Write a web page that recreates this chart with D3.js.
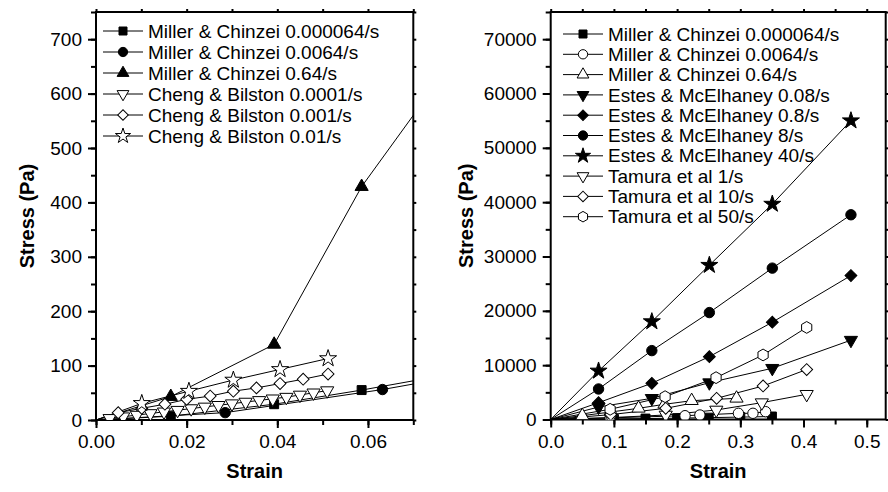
<!DOCTYPE html>
<html><head><meta charset="utf-8">
<script src="https://cdn.jsdelivr.net/npm/d3@7"></script>
<style>
body{margin:0;background:#fff;}
svg{display:block;font-family:"Liberation Sans",Arial,Helvetica,sans-serif;}
</style></head>
<body>
<svg id="c" width="888" height="492"></svg>
<script>
// ---------------- DATA : left panel ----------------
const leftXTicks = [0, 0.02, 0.04, 0.06];
const leftXTickLabels = ["0.00", "0.02", "0.04", "0.06"];
const leftYTicks = [0, 100, 200, 300, 400, 500, 600, 700];

const mc1Strain = [0, 0.0165, 0.0393, 0.0586, 0.078];
const mc1Stress = [0, 7, 29, 55, 84];
const mc2Strain = [0, 0.0285, 0.0632, 0.078];
const mc2Stress = [0, 13.5, 56, 78];
const mc3Strain = [0, 0.0165, 0.0393, 0.0586, 0.078];
const mc3Stress = [0, 43, 139, 429, 652];
const cb1Strain = [0, 0.003, 0.006, 0.009, 0.012, 0.015, 0.018, 0.021, 0.024, 0.027, 0.030, 0.033, 0.036, 0.039, 0.042, 0.045, 0.048, 0.051];
const cb1Stress = [0, 3, 6, 9, 12, 15, 18, 21, 24, 27, 30, 33, 36, 39, 42, 46, 50, 54];
const cb2Strain = [0, 0.0049, 0.0101, 0.0152, 0.0200, 0.0252, 0.0303, 0.0354, 0.0406, 0.0457, 0.0512];
const cb2Stress = [0, 13.4, 21.5, 29, 38, 44, 53, 59, 67, 75, 84.5];
const cb3Strain = [0, 0.0101, 0.0205, 0.0303, 0.0406, 0.0512];
const cb3Stress = [0, 30.6, 53, 73.5, 93, 113];

const leftNames = ["Miller & Chinzei 0.000064/s", "Miller & Chinzei 0.0064/s", "Miller & Chinzei 0.64/s",
  "Cheng & Bilston 0.0001/s", "Cheng & Bilston 0.001/s", "Cheng & Bilston 0.01/s"];

// ---------------- DATA : right panel ----------------
const rightXTicks = [0, 0.1, 0.2, 0.3, 0.4, 0.5];
const rightXTickLabels = ["0.0", "0.1", "0.2", "0.3", "0.4", "0.5"];
const rightYTicks = [0, 10000, 20000, 30000, 40000, 50000, 60000, 70000];

const rmc1Strain = [0, 0.05, 0.10, 0.15, 0.20, 0.25, 0.30, 0.35];
const rmc1Stress = [0, 40, 100, 170, 250, 340, 440, 550];
const rmc2Strain = [0, 0.094, 0.2125, 0.236, 0.297, 0.32, 0.34];
const rmc2Stress = [0, 300, 700, 830, 1140, 1140, 1440];
const rmc3Strain = [0, 0.05, 0.096, 0.139, 0.18, 0.223, 0.294];
const rmc3Stress = [0, 700, 1400, 2060, 2800, 3460, 3900];
const es1Strain = [0, 0.0757, 0.16, 0.251, 0.3506, 0.475];
const es1Stress = [0, 2300, 3900, 6780, 9430, 14600];
const es2Strain = [0, 0.0757, 0.16, 0.251, 0.3506, 0.475];
const es2Stress = [0, 3100, 6670, 11570, 17900, 26500];
const es3Strain = [0, 0.0757, 0.16, 0.251, 0.3506, 0.475];
const es3Stress = [0, 5620, 12680, 19680, 27860, 37680];
const es4Strain = [0, 0.0757, 0.16, 0.251, 0.3506, 0.475];
const es4Stress = [0, 8940, 18020, 28400, 39650, 55000];
const ta1Strain = [0, 0.095, 0.182, 0.262, 0.334, 0.405];
const ta1Stress = [0, 350, 830, 1750, 3100, 4640];
const ta2Strain = [0, 0.095, 0.182, 0.2625, 0.336, 0.405];
const ta2Stress = [0, 900, 2060, 3900, 6170, 9200];
const ta3Strain = [0, 0.094, 0.181, 0.2616, 0.336, 0.405];
const ta3Stress = [0, 1880, 4200, 7700, 11880, 16950];

const rightNames = ["Miller & Chinzei 0.000064/s", "Miller & Chinzei 0.0064/s", "Miller & Chinzei 0.64/s",
  "Estes & McElhaney 0.08/s", "Estes & McElhaney 0.8/s", "Estes & McElhaney 8/s", "Estes & McElhaney 40/s",
  "Tamura et al 1/s", "Tamura et al 10/s", "Tamura et al 50/s"];

// ---------------- symbols ----------------
const hexagon = {draw(ctx, size){ const r = Math.sqrt(size/2.598);
  for(let i=0;i<6;i++){const a=Math.PI/6+i*Math.PI/3; const x=r*Math.cos(a), y=r*Math.sin(a); i?ctx.lineTo(x,y):ctx.moveTo(x,y);} ctx.closePath(); }};
const M = {
  square:{type:d3.symbolSquare,size:80,rot:0},
  circle:{type:d3.symbolCircle,size:85,rot:0},
  tri:{type:d3.symbolTriangle,size:75,rot:0},
  dtri:{type:d3.symbolTriangle,size:75,rot:180},
  diamond:{type:d3.symbolSquare,size:70,rot:45},
  star:{type:d3.symbolStar,size:90,rot:0},
  hex:{type:hexagon,size:90,rot:0}
};

const svg = d3.select("#c");
svg.append("rect").attr("width",888).attr("height",492).attr("fill","#fff");

function zip(xs, ys){ return xs.map((x,i)=>({x, y: ys[i]})); }

function panel(opt){
  const x = d3.scaleLinear().domain(opt.xDomain).range(opt.xRange);
  const y = d3.scaleLinear().domain(opt.yDomain).range(opt.yRange);
  const g = svg.append("g");
  const cid = "clip"+opt.id;
  svg.append("clipPath").attr("id",cid).append("rect")
    .attr("x",opt.xRange[0]).attr("y",opt.yRange[1])
    .attr("width",opt.xRange[1]-opt.xRange[0]).attr("height",opt.yRange[0]-opt.yRange[1]);

  const fs = "19px";
  const bottom = g.append("g").attr("transform",`translate(0,${opt.yRange[0]})`)
    .call(d3.axisBottom(x).tickValues(opt.xMinor).tickSize(5).tickFormat(""));
  const bottomMaj = g.append("g").attr("transform",`translate(0,${opt.yRange[0]})`)
    .call(d3.axisBottom(x).tickValues(opt.xTicks).tickSize(8).tickPadding(7).tickFormat((d,i)=>opt.xLabels[i]));
  const leftMin = g.append("g").attr("transform",`translate(${opt.xRange[0]},0)`)
    .call(d3.axisLeft(y).tickValues(opt.yMinor).tickSize(5).tickFormat(""));
  const leftMaj = g.append("g").attr("transform",`translate(${opt.xRange[0]},0)`)
    .call(d3.axisLeft(y).tickValues(opt.yTicks).tickSize(8).tickPadding(6).tickFormat(d3.format("d")));
  const top = g.append("g").attr("transform",`translate(0,${opt.yRange[1]})`)
    .call(d3.axisTop(x).tickValues(opt.xMinor).tickSize(3).tickFormat(""));
  const right = g.append("g").attr("transform",`translate(${opt.xRange[1]},0)`)
    .call(d3.axisRight(y).tickValues(opt.yMinor).tickSize(3).tickFormat(""));
  [bottom,bottomMaj,leftMin,leftMaj,top,right].forEach(a=>{
    a.select(".domain").remove();
    a.selectAll("line").attr("stroke","#000").attr("stroke-width",2);
    a.selectAll("text").attr("fill","#000").style("font-size",fs).style("font-family","Liberation Sans, Arial, sans-serif");
  });
  g.append("rect").attr("x",opt.xRange[0]).attr("y",opt.yRange[1])
    .attr("width",opt.xRange[1]-opt.xRange[0]).attr("height",opt.yRange[0]-opt.yRange[1])
    .attr("fill","none").attr("stroke","#000").attr("stroke-width",2);

  g.append("text").attr("x",(opt.xRange[0]+opt.xRange[1])/2).attr("y",478)
    .attr("text-anchor","middle").style("font-weight","bold").style("font-size","20px").text("Strain");
  g.append("text").attr("transform",`translate(${opt.yTitleX},${(opt.yRange[0]+opt.yRange[1])/2}) rotate(-90)`)
    .attr("text-anchor","middle").style("font-weight","bold").style("font-size","20px").text("Stress (Pa)");

  const line = d3.line().x(d=>x(d.x)).y(d=>y(d.y));
  const plot = g.append("g").attr("clip-path",`url(#${cid})`);
  opt.series.forEach(s=>{
    const pts = zip(s.xs, s.ys);
    plot.append("path").attr("d",line(pts)).attr("fill","none").attr("stroke","#000").attr("stroke-width",1);
  });
  opt.series.forEach(s=>{
    const pts = zip(s.xs, s.ys).filter(d=>d.x>0);
    const m = M[s.m];
    plot.selectAll(null).data(pts).enter().append("path")
      .attr("d", d3.symbol().type(m.type).size(m.size))
      .attr("transform", d=>`translate(${x(d.x)},${y(d.y)}) rotate(${m.rot})`)
      .attr("fill", s.open ? "#fff" : "#000").attr("stroke","#000").attr("stroke-width",1);
  });

  opt.series.forEach((s,i)=>{
    const ly = opt.legY + i*opt.legDy;
    const lg = g.append("g");
    lg.append("line").attr("x1",opt.legX).attr("x2",opt.legX+40).attr("y1",ly).attr("y2",ly).attr("stroke","#000").attr("stroke-width",1);
    const m = M[s.m];
    lg.append("path").attr("d", d3.symbol().type(m.type).size(m.size*0.8))
      .attr("transform",`translate(${opt.legX+20},${ly}) rotate(${m.rot})`)
      .attr("fill", s.open ? "#fff" : "#000").attr("stroke","#000");
    lg.append("text").attr("x",opt.legX+45).attr("y",ly).attr("dy","0.35em")
      .style("font-size","19px").text(opt.names[i]);
  });
}

panel({
  id:"L", xDomain:[0,0.07], xRange:[96,413.3], yDomain:[0,750], yRange:[420,12],
  xTicks:leftXTicks, xLabels:leftXTickLabels, xMinor:d3.range(0,0.0701,0.01),
  yTicks:leftYTicks, yMinor:d3.range(0,751,50), yTitleX:34,
  legX:103, legY:31, legDy:21, names:leftNames,
  series:[
    {xs:mc1Strain, ys:mc1Stress, m:"square"},
    {xs:mc2Strain, ys:mc2Stress, m:"circle"},
    {xs:mc3Strain, ys:mc3Stress, m:"tri"},
    {xs:cb1Strain, ys:cb1Stress, m:"dtri", open:true},
    {xs:cb2Strain, ys:cb2Stress, m:"diamond", open:true},
    {xs:cb3Strain, ys:cb3Stress, m:"star", open:true}
  ]
});

panel({
  id:"R", xDomain:[0,0.53], xRange:[550.7,885.7], yDomain:[0,75000], yRange:[419.5,12],
  xTicks:rightXTicks, xLabels:rightXTickLabels, xMinor:d3.range(0,0.531,0.05),
  yTicks:rightYTicks, yMinor:d3.range(0,75001,5000), yTitleX:473,
  legX:563, legY:34, legDy:20.3, names:rightNames,
  series:[
    {xs:rmc1Strain, ys:rmc1Stress, m:"square"},
    {xs:rmc2Strain, ys:rmc2Stress, m:"circle", open:true},
    {xs:rmc3Strain, ys:rmc3Stress, m:"tri", open:true},
    {xs:es1Strain, ys:es1Stress, m:"dtri"},
    {xs:es2Strain, ys:es2Stress, m:"diamond"},
    {xs:es3Strain, ys:es3Stress, m:"circle"},
    {xs:es4Strain, ys:es4Stress, m:"star"},
    {xs:ta1Strain, ys:ta1Stress, m:"dtri", open:true},
    {xs:ta2Strain, ys:ta2Stress, m:"diamond", open:true},
    {xs:ta3Strain, ys:ta3Stress, m:"hex", open:true}
  ]
});
</script>
</body></html>
